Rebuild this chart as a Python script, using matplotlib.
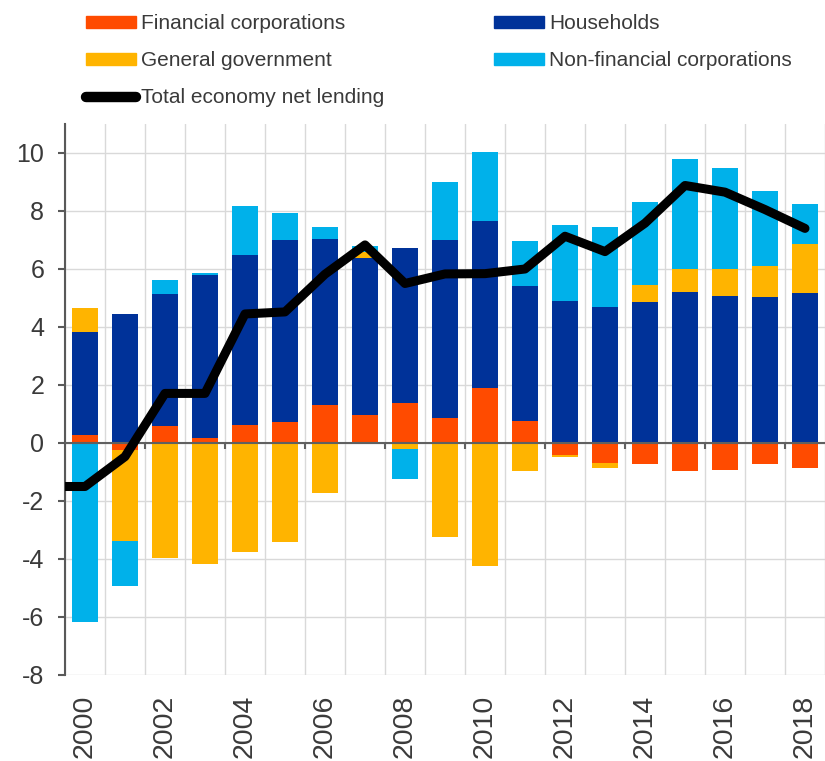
import matplotlib
matplotlib.use("Agg")
import matplotlib.pyplot as plt
import numpy as np
from matplotlib.patches import Patch
from matplotlib.lines import Line2D

years = list(range(2000, 2019))

financial = [0.28, -0.24, 0.59, 0.18, 0.62, 0.71, 1.31, 0.97, 1.37, 0.87,
             1.91, 0.77, -0.41, -0.70, -0.74, -0.97, -0.92, -0.71, -0.87]
households = [3.54, 4.44, 4.56, 5.62, 5.87, 6.30, 5.72, 5.40, 5.34, 6.14,
              5.75, 4.66, 4.91, 4.68, 4.86, 5.21, 5.08, 5.05, 5.16]
government = [0.85, -3.13, -3.95, -4.18, -3.75, -3.42, -1.71, 0.23, -0.21, -3.25,
              -4.23, -0.97, -0.06, -0.15, 0.58, 0.79, 0.91, 1.04, 1.71]
nonfinancial = [-6.16, -1.55, 0.48, 0.05, 1.69, 0.93, 0.41, 0.18, -1.04, 2.00,
                2.36, 1.52, 2.60, 2.76, 2.87, 3.79, 3.48, 2.60, 1.38]

# line starts one year earlier (drawn off the left edge of the chart)
line_years = list(range(1999, 2019))
net_lending = [-1.50, -1.50, -0.47, 1.71, 1.71, 4.45, 4.52, 5.82, 6.83, 5.50,
               5.83, 5.84, 6.00, 7.13, 6.60, 7.58, 8.88, 8.65, 8.05, 7.40]

series = [
    ("Financial corporations", financial, "#ff4b00"),
    ("Households", households, "#003299"),
    ("General government", government, "#ffb400"),
    ("Non-financial corporations", nonfinancial, "#00b1ea"),
]

TEXT = "#3a3a3a"
plt.rcParams["font.family"] = ["Liberation Sans", "DejaVu Sans"]
plt.rcParams["axes.unicode_minus"] = False

fig = plt.figure(figsize=(8.25, 7.61), dpi=100)
ax = fig.add_axes([65 / 825, 86 / 761, 760 / 825, 551 / 761])

x = np.array(years)
pos_bottom = np.zeros(len(years))
neg_bottom = np.zeros(len(years))
for name, vals, color in series:
    v = np.array(vals)
    bottom = np.where(v >= 0, pos_bottom, neg_bottom)
    ax.bar(x, v, bottom=bottom, width=0.66, color=color, zorder=2)
    pos_bottom += np.where(v >= 0, v, 0)
    neg_bottom += np.where(v < 0, v, 0)

ax.plot(line_years, net_lending, color="black", lw=6.5,
        solid_capstyle="round", solid_joinstyle="round", zorder=4)

ax.set_xlim(1999.5, 2018.24)
ax.set_ylim(-8, 11)
ax.set_yticks(range(-8, 11, 2))
ax.set_xticks(range(2000, 2019, 2))
ax.set_xticks(np.arange(1999.5, 2019, 1), minor=True)

ax.grid(axis="y", color="#d9d9d9", lw=1, zorder=0)
ax.grid(axis="x", which="minor", color="#d9d9d9", lw=1, zorder=0)
ax.set_axisbelow(True)

ax.axhline(0, color="#606060", lw=1.5, zorder=3)
ax.vlines(np.arange(2001.5, 2019, 2), -0.22, 0, color="#606060", lw=1.5, zorder=3)

for side in ["top", "right", "bottom"]:
    ax.spines[side].set_visible(False)
ax.spines["left"].set_color("#595959")
ax.spines["left"].set_linewidth(1.5)

ax.tick_params(axis="y", labelsize=18, labelcolor=TEXT, color="#595959",
               length=5, width=1.5, pad=10)
ax.tick_params(axis="x", which="major", labelsize=20.5, labelcolor=TEXT,
               length=0, pad=14, labelrotation=90)
ax.tick_params(axis="x", which="minor", length=0)

handles = [
    Patch(color="#ff4b00", label="Financial corporations"),
    Patch(color="#ffb400", label="General government"),
    Line2D([], [], color="black", lw=7.5, solid_capstyle="round",
           label="Total economy net lending"),
    Patch(color="#003299", label="Households"),
    Patch(color="#00b1ea", label="Non-financial corporations"),
]
fig.legend(handles=handles, loc="upper left", bbox_to_anchor=(86 / 825, 1 - 14 / 761),
           ncol=2, frameon=False, fontsize=15, labelcolor=TEXT,
           handlelength=2.4, handleheight=0.5, handletextpad=0.25,
           columnspacing=5.25, labelspacing=0.87, borderpad=0, borderaxespad=0)

fig.savefig("out.png", dpi=100)
